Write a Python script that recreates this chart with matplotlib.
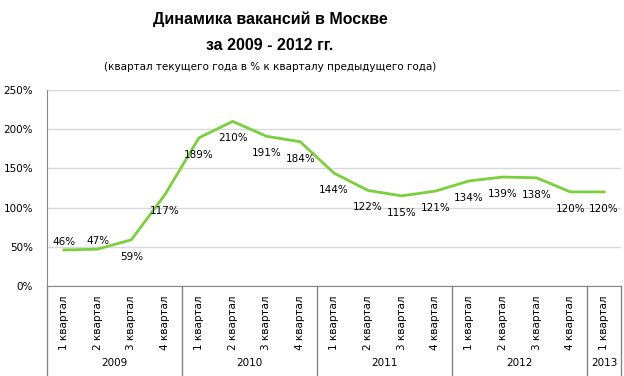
import matplotlib
matplotlib.use("Agg")
import matplotlib.pyplot as plt
from matplotlib.transforms import blended_transform_factory
import numpy as np

# quarterly vacancies, % of same quarter of previous year
quarters = ["1 квартал", "2 квартал", "3 квартал", "4 квартал"] * 4 + ["1 квартал"]
values = [46, 47, 59, 117, 189, 210, 191, 184, 144, 122, 115, 121,
          134, 139, 138, 120, 120]
years = ["2009", "2010", "2011", "2012", "2013"]
year_sizes = [4, 4, 4, 4, 1]
above = [True, True] + [False] * 15

plt.rcParams["font.family"] = ["DejaVu Sans"]

fig = plt.figure(figsize=(6.24, 3.76), dpi=100)
ax = fig.add_axes([47 / 624, 1 - 286 / 376, 574 / 624, 196 / 376])

x = np.arange(len(values))
ax.plot(x, np.array(values) / 100, color="#7AD03A", lw=2, solid_joinstyle="round")

for xi, v, up in zip(x, values, above):
    ax.annotate(f"{v}%", (xi, v / 100), xytext=(0, 8 if up else -17),
                textcoords="offset pixels", ha="center", va="center",
                fontsize=7.5, color="black")

ax.set_xlim(-0.5, len(values) - 0.5)
ax.set_ylim(0, 2.5)
ax.set_yticks(np.arange(0, 2.51, 0.5))
ax.set_yticklabels([f"{int(t * 100)}%" for t in np.arange(0, 2.51, 0.5)], fontsize=7.5)
ax.yaxis.grid(True, color="#D9D9D9", lw=1)
ax.set_axisbelow(True)
ax.tick_params(axis="y", length=0, pad=10)

ax.set_xticks(x)
ax.set_xticklabels(quarters, rotation=90, fontsize=7.5, va="top", ha="center")
ax.tick_params(axis="x", length=0, pad=7)

for s in ["top", "right"]:
    ax.spines[s].set_visible(False)
ax.spines["left"].set_color("#868686")
ax.spines["bottom"].set_color("#868686")

# year group dividers and labels
tr = blended_transform_factory(ax.transData, ax.transAxes)
bottom = -90 / 196
start = -0.5
for yr, n in zip(years, year_sizes):
    end = start + n
    ax.plot([end, end], [0, bottom], transform=tr, color="#868686",
            lw=1, clip_on=False)
    ax.text((start + end) / 2, -77 / 196, yr, transform=tr, ha="center",
            va="center", fontsize=7.5)
    start = end
ax.plot([-0.5, -0.5], [0, bottom], transform=tr, color="#868686",
        lw=1, clip_on=False)

fig.text(270 / 624, 1 - 19 / 376, "Динамика вакансий в Москве", ha="center",
         va="center", fontsize=11.5, fontweight="bold", family="Liberation Sans")
fig.text(270 / 624, 1 - 45 / 376, "за 2009 - 2012 гг.", ha="center",
         va="center", fontsize=11.5, fontweight="bold", family="Liberation Sans")
fig.text(270 / 624, 1 - 67 / 376,
         "(квартал текущего года в % к кварталу предыдущего года)",
         ha="center", va="center", fontsize=7.5)

fig.savefig("out.png", dpi=100)
